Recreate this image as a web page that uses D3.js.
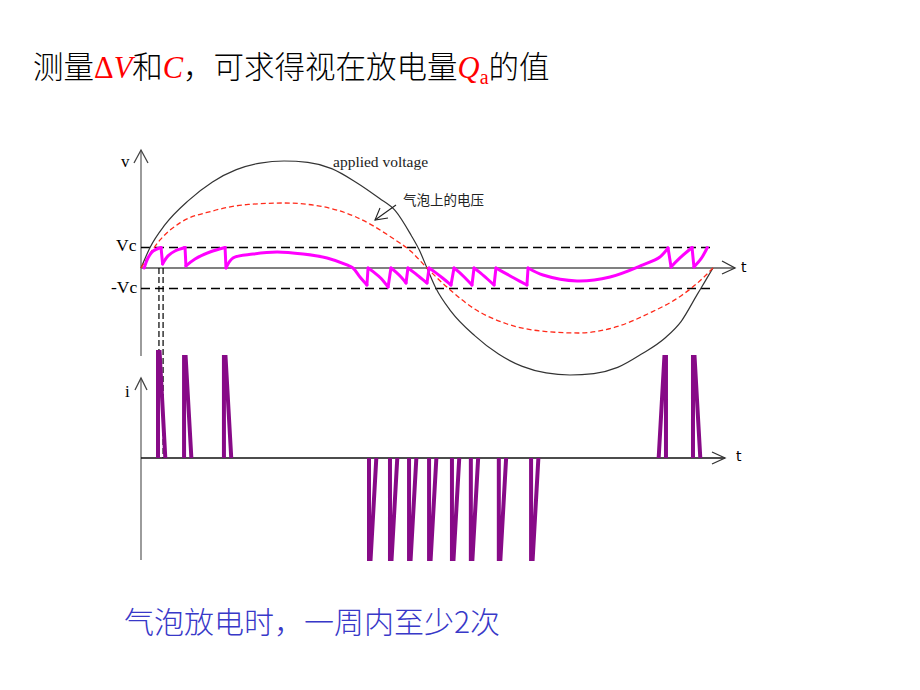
<!DOCTYPE html>
<html><head><meta charset="utf-8">
<script src="https://cdn.jsdelivr.net/npm/d3@7/dist/d3.min.js"></script>
<style>body{margin:0;background:#fff}svg{display:block}</style>
</head><body>
<script>
// ---------- data (t in degrees of one cycle, v in units of Vc, i in relative units) ----------
const appliedT = [0, 5.7, 15, 30, 45, 60, 75, 90, 105, 120, 135, 150, 160, 170, 175, 180, 185.7, 195, 210, 225, 240, 255, 270, 285, 300, 315, 330, 340, 350, 355, 360];
const appliedV = [0, 1.0, 2.1, 3.3, 4.2, 4.8, 5.12, 5.22, 5.15, 4.85, 4.2, 3.4, 2.8, 1.6, 0.9, 0, -1.0, -2.1, -3.3, -4.2, -4.8, -5.12, -5.22, -5.15, -4.85, -4.2, -3.4, -2.6, -1.3, -0.65, 0];

const bubbleT = [0, 12, 24.5, 45, 67.5, 90, 112.5, 135, 157.5, 170, 180, 195, 210, 230, 255, 275, 300, 320, 340, 350, 360];
const bubbleV = [0, 1.37, 2.2, 2.78, 3.1, 3.17, 3.02, 2.5, 1.5, 0.8, 0, -1.1, -2.0, -2.72, -3.1, -3.17, -2.85, -2.2, -1.35, -0.75, 0];

// voltage across the void: one list of [t, v] points per charging segment
const voidSegments = [
  [[2,0],[4.4,0.49],[7.6,0.83],[12.6,1.0]],
  [[13.6,0.2],[17.0,0.59],[21.4,0.83],[27.7,1.0]],
  [[28.3,0.1],[34.0,0.44],[43.4,0.78],[52.9,1.0]],
  [[53.5,0],[57.9,0.49],[70.5,0.68],[85.6,0.78],[102,0.68],[117.1,0.49],[129.6,0.15],[133.4,0],[137.8,-0.44],[142.2,-0.83]],
  [[142.9,0],[146.5,-0.2],[151,-0.5],[155.5,-0.93]],
  [[157.3,0],[160.5,-0.2],[163.8,-0.45],[166.8,-0.73]],
  [[168,0],[171.5,-0.2],[175.5,-0.45],[180,-0.73]],
  [[181.3,0],[185,-0.2],[190,-0.5],[195.1,-0.83]],
  [[197,0],[200.2,-0.2],[204.2,-0.5],[208.3,-0.83]],
  [[209.6,0],[213,-0.2],[217.5,-0.5],[222.2,-0.83]],
  [[223.4,0],[228,-0.2],[235,-0.5],[242.9,-0.83]],
  [[243.6,0],[253,-0.34],[274.4,-0.63],[295.2,-0.44],[315.9,0.15],[326.6,0.54],[331.7,0.98]],
  [[333.6,0.05],[339.2,0.49],[346.8,1.0]],
  [[348,0.05],[352.4,0.44],[355,0.78],[356.4,1.0]]
];

// discharge current pulses
const pulseT    = [10.7, 27.1, 52.2, 143.5, 156.7, 168.7, 181.3, 195.7, 207.6, 225.2, 245.5, 330.4, 347.4];
const pulseI    = [1.05, 1, 1, -1, -1, -1, -1, -1, -1, -1, -1, 1, 1];
const pulseLean = [1, 1, 1, 1, 1, 1, 1, 1, 1, 1, 1, -1, 1];

const guideT = [11.3, 13.9];

const labels = {
  title1: "测量", delta: "Δ", V: "V", he: "和", C: "C", mid: "，可求得视在放电量", Q: "Q", a: "a", end: "的值",
  applied: "applied voltage", bubble: "气泡上的电压", vc: "Vc", mvc: "-Vc", v: "v", t: "t", i: "i",
  note: "气泡放电时，一周内至少2次"
};

// ---------- drawing ----------
const W = 920, H = 690;
const svg = d3.select("body").append("svg").attr("width", W).attr("height", H);

const x  = d3.scaleLinear().domain([0, 360]).range([141, 713]);
const yV = d3.scaleLinear().domain([0, 1]).range([268, 247.5]);
const yI = d3.scaleLinear().domain([0, 1]).range([458, 357]);

const serif = "'Liberation Serif','Times New Roman',serif";
const cjk = "'Noto Sans CJK SC','Noto Sans',sans-serif";

// title
const title = svg.append("text").attr("x", 33).attr("y", 78).attr("font-size", 30.5).attr("font-family", cjk).attr("font-weight", 300).attr("fill", "#000");
title.append("tspan").text(labels.title1);
title.append("tspan").attr("fill", "#ff0000").attr("font-family", serif).attr("font-weight", 400).text(labels.delta);
title.append("tspan").attr("fill", "#ff0000").attr("font-family", serif).attr("font-weight", 400).attr("font-style", "italic").text(labels.V);
title.append("tspan").text(labels.he);
title.append("tspan").attr("fill", "#ff0000").attr("font-family", serif).attr("font-weight", 400).attr("font-style", "italic").text(labels.C);
title.append("tspan").text(labels.mid);
title.append("tspan").attr("fill", "#ff0000").attr("font-family", serif).attr("font-weight", 400).attr("font-style", "italic").text(labels.Q);
title.append("tspan").attr("fill", "#ff0000").attr("font-family", serif).attr("font-weight", 400).attr("font-size", 20).attr("dy", 6).text(labels.a);
title.append("tspan").attr("dy", -6).text(labels.end);

// axes
const x0 = x(0);
svg.append("line").attr("x1", x0).attr("x2", x0).attr("y1", 150).attr("y2", 356).attr("stroke", "#666").attr("stroke-width", 1.3);
svg.append("line").attr("x1", x0).attr("x2", x0).attr("y1", 378).attr("y2", 560).attr("stroke", "#666").attr("stroke-width", 1.3);
svg.append("path").attr("d", `M${x0-7},163L${x0},150L${x0+7},163`).attr("fill", "none").attr("stroke", "#444").attr("stroke-width", 1.3);
svg.append("path").attr("d", `M${x0-6},390L${x0},378L${x0+6},390`).attr("fill", "none").attr("stroke", "#444").attr("stroke-width", 1.3);

// Vc / -Vc dashed
[1, -1].forEach(v => {
  svg.append("line").attr("x1", x0).attr("x2", 715).attr("y1", yV(v)).attr("y2", yV(v))
    .attr("stroke", "#000").attr("stroke-width", 1.3).attr("stroke-dasharray", "9,5");
});
// time axes
svg.append("line").attr("x1", x0).attr("x2", 735).attr("y1", yV(0)).attr("y2", yV(0)).attr("stroke", "#808080").attr("stroke-width", 2);
svg.append("path").attr("d", `M722,${yV(0)-7}L735,${yV(0)}L722,${yV(0)+6}`).attr("fill", "none").attr("stroke", "#333").attr("stroke-width", 1.3);
svg.append("line").attr("x1", x0).attr("x2", 725).attr("y1", yI(0)).attr("y2", yI(0)).attr("stroke", "#111").attr("stroke-width", 1.6);
svg.append("path").attr("d", `M712,${yI(0)-6}L725,${yI(0)}L712,${yI(0)+6}`).attr("fill", "none").attr("stroke", "#333").attr("stroke-width", 1.3);

// axis labels
svg.append("text").attr("x", 121).attr("y", 167).attr("font-family", serif).attr("font-size", 17).text(labels.v);
svg.append("text").attr("x", 116).attr("y", 251).attr("font-family", serif).attr("font-size", 17.5).text(labels.vc);
svg.append("text").attr("x", 111).attr("y", 293).attr("font-family", serif).attr("font-size", 17.5).text(labels.mvc);
svg.append("text").attr("x", 741).attr("y", 272).attr("font-family", "'DejaVu Sans',sans-serif").attr("font-size", 14).text(labels.t);
svg.append("text").attr("x", 736).attr("y", 461).attr("font-family", "'DejaVu Sans',sans-serif").attr("font-size", 14).text(labels.t);
svg.append("text").attr("x", 125).attr("y", 397).attr("font-family", serif).attr("font-size", 17).text(labels.i);

// guide dashed verticals
guideT.forEach(t => {
  svg.append("line").attr("x1", x(t)).attr("x2", x(t)).attr("y1", yV(0)).attr("y2", yI(0))
    .attr("stroke", "#000").attr("stroke-width", 1.2).attr("stroke-dasharray", "6,3");
});

// applied voltage
const appliedData = appliedT.map((t, k) => [t, appliedV[k]]);
svg.append("path").datum(appliedData)
  .attr("d", d3.line().x(d => x(d[0])).y(d => yV(d[1])).curve(d3.curveMonotoneX))
  .attr("fill", "none").attr("stroke", "#333").attr("stroke-width", 1.2);

// bubble voltage without discharge (red dashed)
const bubbleData = bubbleT.map((t, k) => [t, bubbleV[k]]);
svg.append("path").datum(bubbleData)
  .attr("d", d3.line().x(d => x(d[0])).y(d => yV(d[1])).curve(d3.curveMonotoneX))
  .attr("fill", "none").attr("stroke", "#ff2a1a").attr("stroke-width", 1.3).attr("stroke-dasharray", "5,3");

// void voltage (magenta)
const segLine = d3.line().x(d => x(d[0])).y(d => yV(d[1])).curve(d3.curveCatmullRom.alpha(0.5));
const mag = svg.append("g").attr("fill", "none").attr("stroke", "#ff00ff").attr("stroke-width", 3).attr("stroke-linecap", "round").attr("stroke-linejoin", "round");
voidSegments.forEach((seg, k) => {
  mag.append("path").attr("d", segLine(seg));
  if (k < voidSegments.length - 1) {
    const a = seg[seg.length - 1], b = voidSegments[k + 1][0];
    mag.append("line").attr("x1", x(a[0])).attr("y1", yV(a[1])).attr("x2", x(b[0])).attr("y2", yV(b[1]));
  }
});

// labels for curves
svg.append("text").attr("x", 333).attr("y", 167).attr("font-family", serif).attr("font-size", 15.5).attr("fill", "#222").text(labels.applied);
svg.append("text").attr("x", 403).attr("y", 205).attr("font-family", cjk).attr("font-size", 13.5).attr("fill", "#222").text(labels.bubble);
svg.append("line").attr("x1", 396).attr("y1", 205).attr("x2", 375).attr("y2", 220).attr("stroke", "#222").attr("stroke-width", 1.1);
svg.append("path").attr("d", "M380,208L375,220L388,218").attr("fill", "none").attr("stroke", "#222").attr("stroke-width", 1.1);

// current pulses
const pw = 4.6; // pulse base width in degrees
const pulses = svg.append("g").attr("fill", "none").attr("stroke", "#870a87").attr("stroke-width", 4).attr("stroke-linejoin", "miter");
pulseT.forEach((t, k) => {
  const lean = pulseLean[k];
  const pts = lean > 0
    ? [[t, 0], [t, pulseI[k]], [t + 1.0, pulseI[k]], [t + pw, 0]]
    : [[t - pw, 0], [t - 1.0, pulseI[k]], [t, pulseI[k]], [t, 0]];
  pulses.append("path").attr("d", d3.line().x(d => x(d[0])).y(d => yI(d[1]))(pts));
});

// note
svg.append("text").attr("x", 124).attr("y", 633).attr("font-family", cjk).attr("font-size", 30).attr("font-weight", 300).attr("fill", "#3838c8").text(labels.note);
</script>
</body></html>
